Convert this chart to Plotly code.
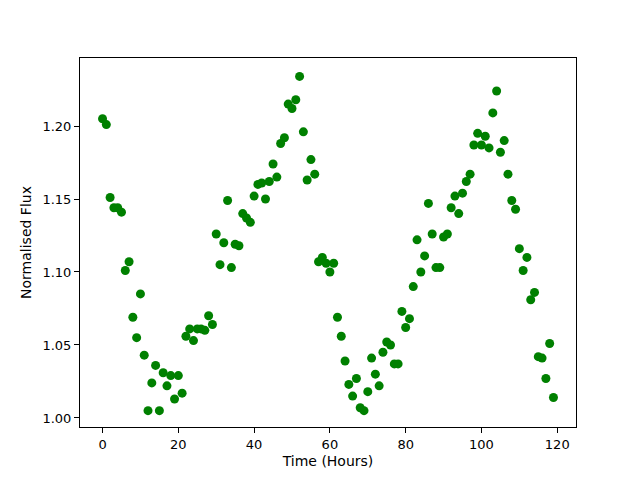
import plotly.graph_objects as go

hours = list(range(120))
flux = [1.205, 1.201, 1.151, 1.144, 1.144, 1.141, 1.101, 1.107, 1.069, 1.055,
        1.085, 1.043, 1.005, 1.024, 1.036, 1.005, 1.031, 1.022, 1.029, 1.013,
        1.029, 1.017, 1.056, 1.061, 1.053, 1.061, 1.061, 1.060, 1.070, 1.064,
        1.126, 1.105, 1.120, 1.149, 1.103, 1.119, 1.118, 1.140, 1.137, 1.134,
        1.152, 1.160, 1.161, 1.150, 1.162, 1.174, 1.165, 1.188, 1.192, 1.215,
        1.212, 1.218, 1.234, 1.196, 1.163, 1.177, 1.167, 1.107, 1.110, 1.106,
        1.100, 1.106, 1.069, 1.056, 1.039, 1.023, 1.015, 1.027, 1.007, 1.005,
        1.018, 1.041, 1.030, 1.022, 1.045, 1.052, 1.050, 1.037, 1.037, 1.073,
        1.062, 1.068, 1.090, 1.122, 1.100, 1.111, 1.147, 1.126, 1.103, 1.103,
        1.124, 1.126, 1.144, 1.152, 1.140, 1.154, 1.162, 1.167, 1.187, 1.195,
        1.187, 1.193, 1.185, 1.209, 1.224, 1.182, 1.190, 1.167, 1.149, 1.143,
        1.116, 1.101, 1.110, 1.081, 1.086, 1.042, 1.041, 1.027, 1.051, 1.014]

x_ticks = [0, 20, 40, 60, 80, 100, 120]
y_ticks = [1.00, 1.05, 1.10, 1.15, 1.20]

fig = go.Figure(go.Scatter(x=hours, y=flux, mode="markers",
                           marker=dict(color="#008000", size=9, line=dict(width=0))))

axis_common = dict(showline=True, linecolor="black", linewidth=1, mirror=True,
                   ticks="outside", ticklen=5, tickwidth=1, tickcolor="black",
                   showgrid=False, zeroline=False,
                   tickfont=dict(family="DejaVu Sans", size=13, color="black"))

title_font = dict(family="DejaVu Sans", size=14, color="black")

fig.update_layout(
    width=632, height=472,
    margin=dict(l=72, r=64, t=50, b=53, autoexpand=False),
    paper_bgcolor="white", plot_bgcolor="white",
    showlegend=False,
    font=dict(family="DejaVu Sans", size=13, color="black"),
    xaxis=dict(range=[-5.95, 124.95], tickvals=x_ticks,
               title=dict(text="Time (Hours)", standoff=5, font=title_font), **axis_common),
    yaxis=dict(range=[0.9938, 1.2466], tickvals=y_ticks, tickformat=".2f",
               title=dict(text="Normalised Flux", standoff=7, font=title_font), **axis_common),
)

fig.write_html("out.html")
